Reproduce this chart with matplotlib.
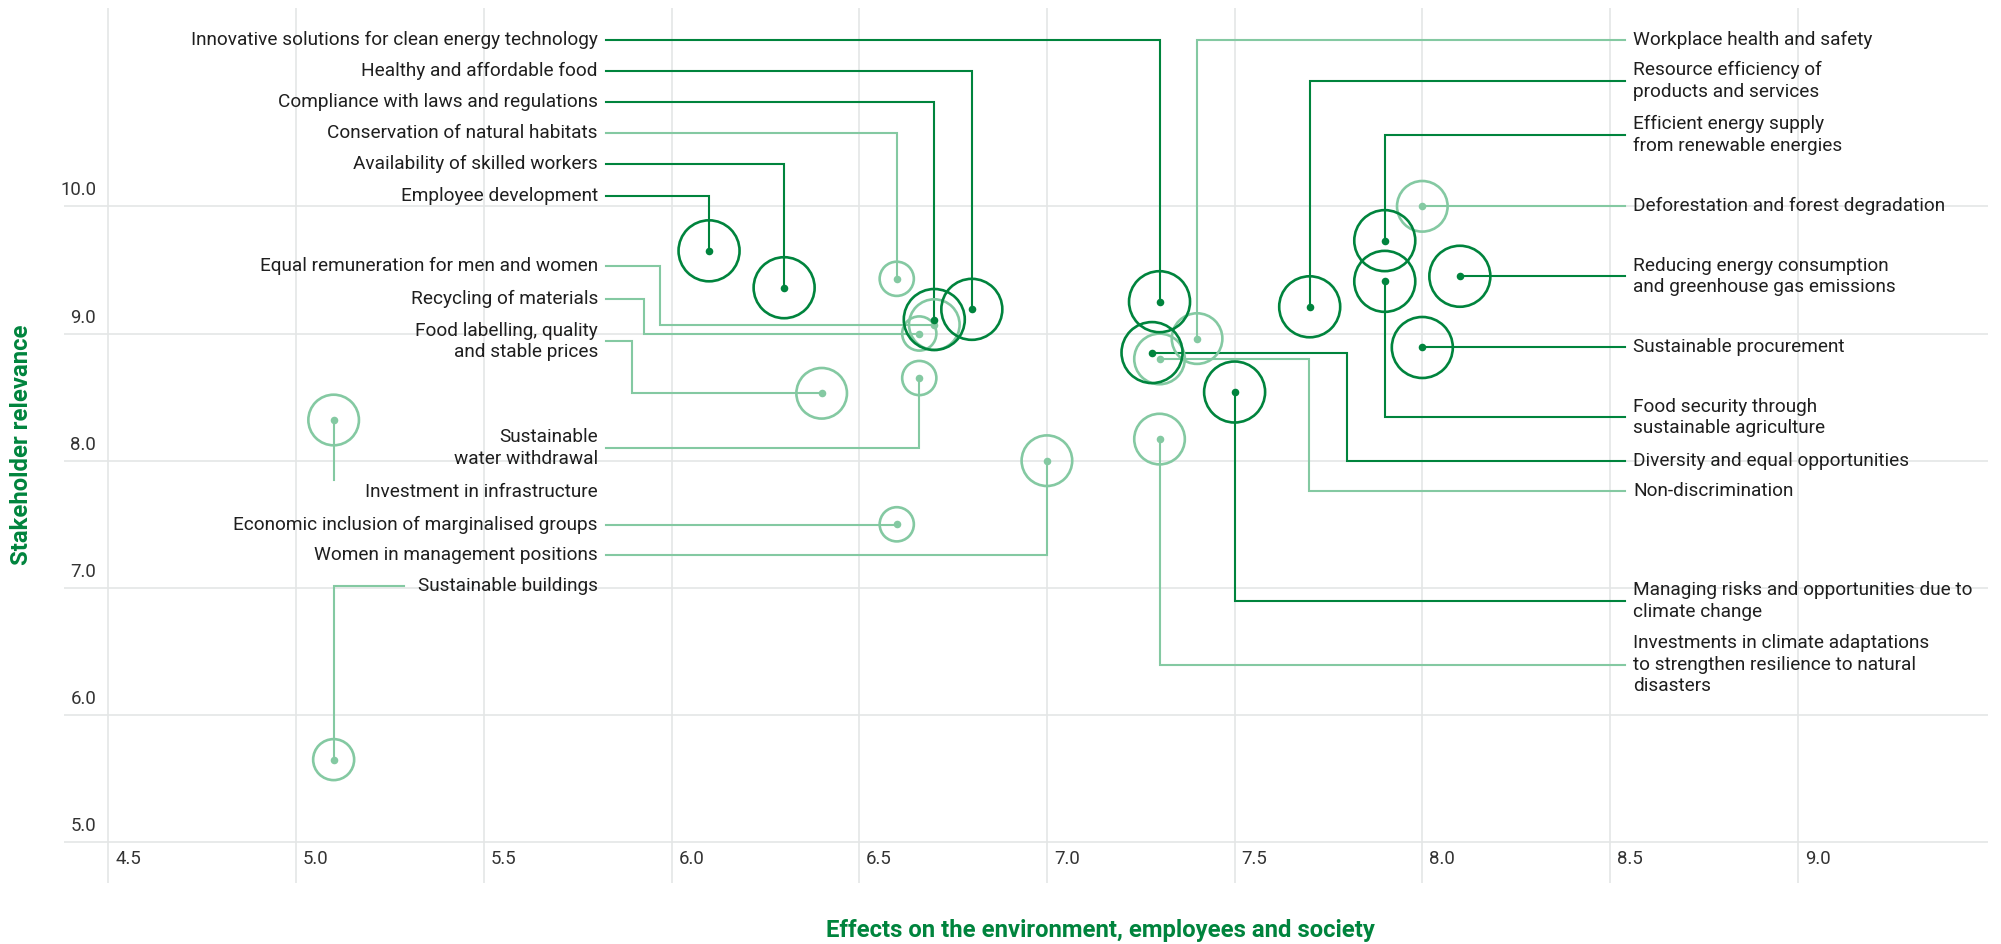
import matplotlib
matplotlib.use("Agg")
import matplotlib.pyplot as plt

# ---------------- data ----------------
topics = [
    "Innovative solutions for clean energy technology",
    "Healthy and affordable food",
    "Compliance with laws and regulations",
    "Conservation of natural habitats",
    "Availability of skilled workers",
    "Employee development",
    "Equal remuneration for men and women",
    "Recycling of materials",
    "Food labelling, quality\nand stable prices",
    "Sustainable\nwater withdrawal",
    "Investment in infrastructure",
    "Economic inclusion of marginalised groups",
    "Women in management positions",
    "Sustainable buildings",
    "Workplace health and safety",
    "Resource efficiency of\nproducts and services",
    "Efficient energy supply\nfrom renewable energies",
    "Deforestation and forest degradation",
    "Reducing energy consumption\nand greenhouse gas emissions",
    "Sustainable procurement",
    "Food security through\nsustainable agriculture",
    "Diversity and equal opportunities",
    "Non-discrimination",
    "Managing risks and opportunities due to\nclimate change",
    "Investments in climate adaptations\nto strengthen resilience to natural\ndisasters",
]
effects = [7.30, 6.80, 6.70, 6.60, 6.30, 6.10, 6.70, 6.66, 6.40, 6.66, 5.10, 6.60, 7.00,
           5.10, 7.40, 7.70, 7.90, 8.00, 8.10, 8.00, 7.90, 7.28, 7.30, 7.50, 7.30]
relevance = [9.25, 9.19, 9.11, 9.43, 9.36, 9.65, 9.07, 9.00, 8.53, 8.65, 8.32, 7.50, 8.00,
             5.65, 8.96, 9.21, 9.73, 10.00, 9.45, 8.89, 9.41, 8.85, 8.80, 8.54, 8.17]
material = [True, True, True, False, True, True, False, False, False, False, False, False, False,
            False, False, True, True, False, True, True, True, True, False, True, False]
bubble = [30.5, 30.5, 30.5, 17.1, 30.5, 30.5, 25.3, 17.1, 25.3, 17.1, 25.3, 17.1, 25.3,
          20.5, 25.3, 30.5, 30.5, 25.3, 30.5, 30.5, 30.5, 30.5, 25.3, 30.5, 25.3]

x_ticks = [4.5, 5.0, 5.5, 6.0, 6.5, 7.0, 7.5, 8.0, 8.5, 9.0]
y_ticks = [5.0, 6.0, 7.0, 8.0, 9.0, 10.0]
x_title = "Effects on the environment, employees and society"
y_title = "Stakeholder relevance"

# ---------------- label layout ----------------
# side, label y, elbow x (None -> go straight to the point's x)
label_side = ["L"] * 14 + ["R"] * 11
label_y = [11.307, 11.063, 10.818, 10.576, 10.332, 10.081, 9.533, 9.271, 8.939, 8.100, 7.756,
           7.494, 7.259, 7.017,
           11.307, 10.987, 10.559, 10.00, 9.45, 8.89, 8.341, 8.00, 7.764, 6.897, 6.394]
elbow_x = [None] * 25
elbow_x[6], elbow_x[7], elbow_x[8] = 5.969, 5.927, 5.894
elbow_x[21], elbow_x[22] = 7.799, 7.698

DARK = "#00843D"
LIGHT = "#84C9A2"
TEXT = "#1f1f1f"
GRID = "#e4e6e6"

W, H, DPI = 2001, 944, 100
fig = plt.figure(figsize=(W / DPI, H / DPI), dpi=DPI)
fig.patch.set_facecolor("white")

# plot area in pixels
px_l, px_r, px_t, px_b = 64, 1988, 8, 883
ax = fig.add_axes([px_l / W, 1 - px_b / H, (px_r - px_l) / W, (px_b - px_t) / H])
ax.set_xlim(4.3817, 9.5069)
ax.set_ylim(4.680, 11.559)
ax.set_xticks(x_ticks)
ax.set_yticks(y_ticks)
ax.tick_params(length=0, labelbottom=False, labelleft=False)
ax.grid(True, color=GRID, linewidth=1.2, zorder=0)
ax.set_axisbelow(True)
for s in ax.spines.values():
    s.set_visible(False)

renderer = fig.canvas.get_renderer()


def fit(text, target_px, **kw):
    t = fig.text(0, 0, text, fontsize=10, **kw)
    w = t.get_window_extent(renderer).width
    t.remove()
    return 10 * target_px / w


FONT = ["Roboto", "DejaVu Sans"]
fs_label = fit(topics[0], 407, family=FONT)
fs_tick = fs_label * 0.98
fs_title = fit(x_title, 549, family=FONT, weight="bold")

# data unit per pixel
ux = (9.5069 - 4.3817) / (px_r - px_l)
uy = (11.559 - 4.680) / (px_b - px_t)

# tick labels
for xt in x_ticks:
    ax.text(xt + 7 * ux, 4.680 + 24 * uy, f"{xt:.1f}", ha="left", va="center",
            fontsize=fs_tick, family=FONT, color="#333333", clip_on=False)
for yt in y_ticks:
    ax.text(4.3817 + 32 * ux, yt + 16 * uy, f"{yt:.1f}", ha="right", va="center",
            fontsize=fs_tick, family=FONT, color="#333333", clip_on=False)

# axis titles
fig.text(1100 / W, 1 - 930 / H, x_title, ha="center", va="center", fontsize=fs_title,
         family=FONT, weight="bold", color=DARK)
fig.text(22 / W, 1 - 445 / H, y_title, ha="center", va="center", rotation=90,
         fontsize=fs_title, family=FONT, weight="bold", color=DARK)

LEFT_TEXT_X = 5.804
LEFT_LINE_X = 5.8255
RIGHT_TEXT_X = 8.562
RIGHT_LINE_X = 8.539

order = sorted(range(len(topics)), key=lambda i: material[i])
for i in order:
    x, y = effects[i], relevance[i]
    col = DARK if material[i] else LIGHT
    ly = label_y[i]
    z = 3 if material[i] else 2
    if label_side[i] == "L":
        ax.text(LEFT_TEXT_X, ly, topics[i], ha="right", va="center", fontsize=fs_label,
                family=FONT, color=TEXT, linespacing=1.25, clip_on=False)
        if topics[i] == "Investment in infrastructure":
            xs, ys = [x, x], [y, 7.848]
        elif topics[i] == "Sustainable buildings":
            xs, ys = [5.287, x, x], [ly, ly, y]
        else:
            ex = elbow_x[i] if elbow_x[i] is not None else x
            xs, ys = [LEFT_LINE_X, ex, ex, x], [ly, ly, y, y]
    else:
        ax.text(RIGHT_TEXT_X, ly, topics[i], ha="left", va="center", fontsize=fs_label,
                family=FONT, color=TEXT, linespacing=1.25, clip_on=False)
        ex = elbow_x[i] if elbow_x[i] is not None else x
        xs, ys = [RIGHT_LINE_X, ex, ex, x], [ly, ly, y, y]
    ax.plot(xs, ys, color=col, linewidth=1.5, solid_joinstyle="miter", zorder=z, clip_on=False)

for i in order:
    col = DARK if material[i] else LIGHT
    z = 5 if material[i] else 4
    d_pt = 2 * bubble[i] * 72 / DPI
    ax.scatter([effects[i]], [relevance[i]], s=d_pt ** 2, facecolors="none",
               edgecolors=col, linewidths=1.9, zorder=z, clip_on=False)
    ax.scatter([effects[i]], [relevance[i]], s=(7.6 * 72 / DPI) ** 2, color=col,
               linewidths=0, zorder=z + 0.5, clip_on=False)

fig.savefig("out.png", dpi=DPI, facecolor="white")
